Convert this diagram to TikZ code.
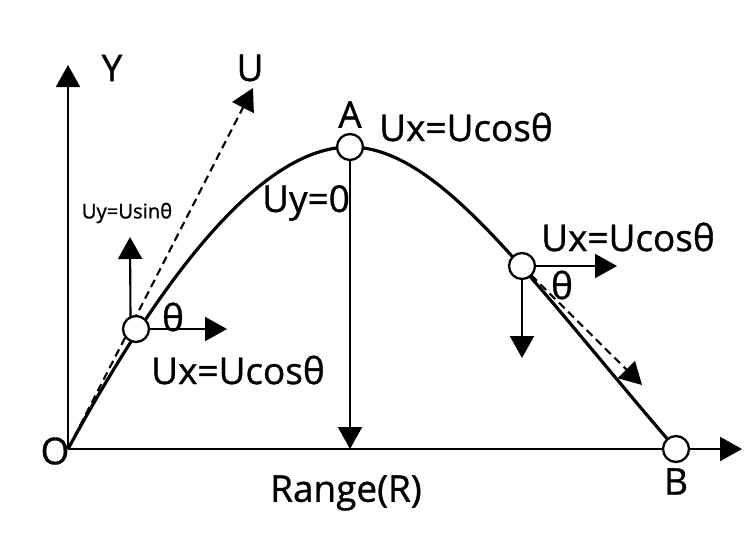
\documentclass[tikz,border=0pt]{standalone}
\usepackage{fontspec}
\setmainfont{Open Sans}[FakeBold=0.9]
\usetikzlibrary{arrows.meta,backgrounds}

\begin{document}
\begin{tikzpicture}[font=\fontsize{21}{25}\selectfont,
  pt/.style={circle,draw,fill=white,line width=1.3pt,minimum size=0.52cm,inner sep=0,outer sep=0},
  vec/.style={line width=1.2pt,-{Triangle[length=0.44cm,width=0.48cm]}},
  dsh/.style={vec,dash pattern=on 0.16cm off 0.1cm}]
\useasboundingbox (-1.36,-1.98) rectangle (13.72,8.98);

\coordinate (O) at (0,0);
\node[pt,label=above:A] (A) at (5.64,6.04) {};
\node[pt] (P1) at (1.36,2.40) {};
\node[pt] (P2) at (9.08,3.66) {};
\node[pt,label=below:B] (B) at (12.16,0) {};

% free ends of the arrows
\coordinate (Ytip) at (0,7.68);
\coordinate (Xtip) at (13.48,0);
\coordinate (Utip) at (3.70,7.22);
\coordinate (P1up) at (1.24,4.24);
\coordinate (P1right) at (3.18,2.40);
\coordinate (P2right) at (10.98,3.66);
\coordinate (P2down) at (9.08,1.82);
\coordinate (P2tan) at (11.48,1.28);

% labels
\node (Olbl) at (-0.26,-0.04) {O};
\node (Ylbl) at (0.88,7.62) {Y};
\node (Ulbl) at (3.64,7.62) {U};
\node (UxA) at (7.96,6.44) {Ux=Ucosθ};
\node (Uy0) at (4.76,4.92) {Uy=0};
\node[font=\fontsize{11.5}{14}\selectfont] (Uy1) at (1.18,4.72) {Uy=Usinθ};
\node (th1) at (2.10,2.64) {θ};
\node (Ux1) at (3.40,1.58) {Ux=Ucosθ};
\node (Ux2) at (11.20,4.24) {Ux=Ucosθ};
\node (th2) at (9.88,3.28) {θ};
\node (R) at (5.56,-0.88) {Range(R)};

\begin{scope}[on background layer]
\draw[line width=1.8pt] (O) .. controls (1.84,3.38) and (3.84,6.04) .. (A.center)
  .. controls (7.44,6.04) and (9.24,3.38) .. (B.center);
\draw[dsh] (O) -- (Utip);
\draw[vec] (O) -- (Ytip);
\draw[vec] (O) -- (Xtip);
\end{scope}

\draw[vec] (P1.115) -- (P1up);
\draw[vec] (P1) -- (P1right);
\draw[vec] (A) -- (A |- O);
\draw[vec] (P2) -- (P2right);
\draw[vec] (P2) -- (P2down);
\draw[dsh] (P2.-45) -- (P2tan);
\end{tikzpicture}
\end{document}
